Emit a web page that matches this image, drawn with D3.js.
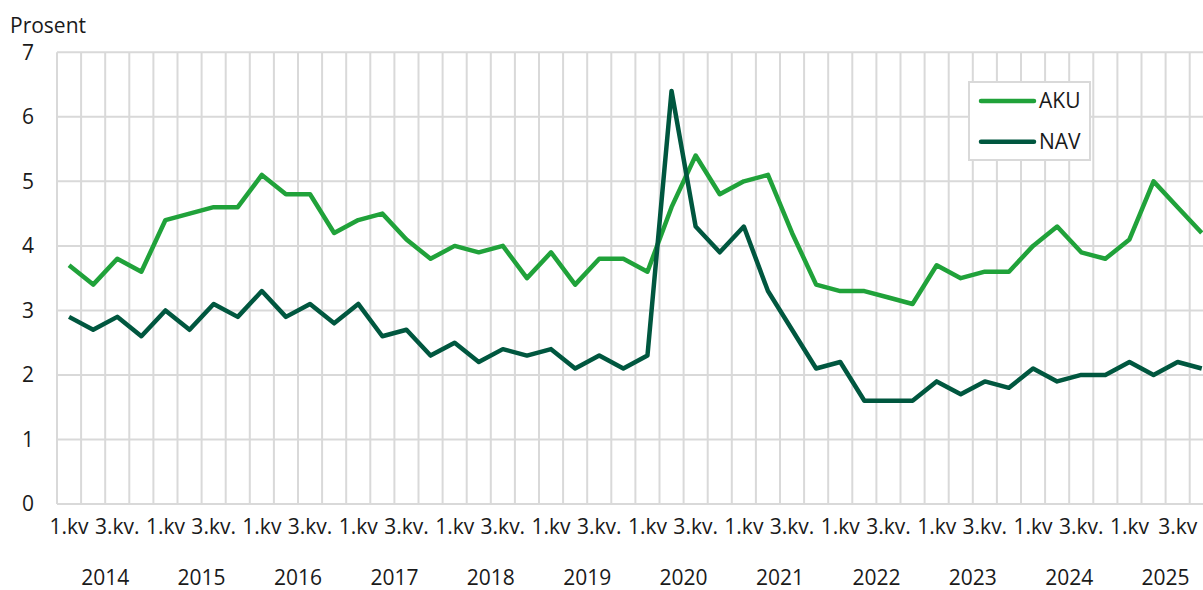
<!DOCTYPE html>
<html>
<head>
<meta charset="utf-8">
<script src="https://cdn.jsdelivr.net/npm/d3@7"></script>
<style>
  body { margin: 0; background: #fff; }
  text { font-family: "Open Sans", sans-serif; fill: #1a1a1a; }
</style>
</head>
<body>
<div class="container"></div>
<script>
// data: quarterly, 2014 Q1 - 2025 Q4
var years = ["2014", "2015", "2016", "2017", "2018", "2019", "2020", "2021", "2022", "2023", "2024", "2025"];

var quarterLabels = [
  "1.kv", "", "3.kv.", "",  "1.kv", "", "3.kv.", "",  "1.kv", "", "3.kv.", "",
  "1.kv", "", "3.kv.", "",  "1.kv", "", "3.kv.", "",  "1.kv", "", "3.kv.", "",
  "1.kv", "", "3.kv.", "",  "1.kv", "", "3.kv.", "",  "1.kv", "", "3.kv.", "",
  "1.kv", "", "3.kv.", "",  "1.kv", "", "3.kv.", "",  "1.kv", "", "3.kv", ""
];

var aku = [
  3.7, 3.4, 3.8, 3.6,  4.4, 4.5, 4.6, 4.6,  5.1, 4.8, 4.8, 4.2,
  4.4, 4.5, 4.1, 3.8,  4.0, 3.9, 4.0, 3.5,  3.9, 3.4, 3.8, 3.8,
  3.6, 4.6, 5.4, 4.8,  5.0, 5.1, 4.2, 3.4,  3.3, 3.3, 3.2, 3.1,
  3.7, 3.5, 3.6, 3.6,  4.0, 4.3, 3.9, 3.8,  4.1, 5.0, 4.6, 4.2
];

var nav = [
  2.9, 2.7, 2.9, 2.6,  3.0, 2.7, 3.1, 2.9,  3.3, 2.9, 3.1, 2.8,
  3.1, 2.6, 2.7, 2.3,  2.5, 2.2, 2.4, 2.3,  2.4, 2.1, 2.3, 2.1,
  2.3, 6.4, 4.3, 3.9,  4.3, 3.3, 2.7, 2.1,  2.2, 1.6, 1.6, 1.6,
  1.9, 1.7, 1.9, 1.8,  2.1, 1.9, 2.0, 2.0,  2.2, 2.0, 2.2, 2.1
];

var yTicks = [0, 1, 2, 3, 4, 5, 6, 7];

var series = [
  { name: "AKU", values: aku, color: "#20a23a" },
  { name: "NAV", values: nav, color: "#00573f" }
];

// svg container
var svgWidth = 1203;
var svgHeight = 590;
var fontSize = 21;

// plot area (runs a little past the right edge, like the original)
var plotLeft = 57, plotTop = 52.3, plotBottom = 504;
var step = 24.1;
var plotRight = plotLeft + step * quarterLabels.length;

var svg = d3.select(".container")
  .append("svg")
  .attr("width", svgWidth)
  .attr("height", svgHeight);

var idx = d3.range(quarterLabels.length);

var x = d3.scaleBand()
  .domain(idx)
  .range([plotLeft, plotRight])
  .paddingInner(0)
  .paddingOuter(0);

var y = d3.scaleLinear()
  .domain([0, 7])
  .range([plotBottom, plotTop]);

var grid = svg.append("g").attr("stroke", "#d9d9d9").attr("stroke-width", 2);

// horizontal gridlines
grid.selectAll(".h")
  .data(yTicks)
  .enter()
  .append("line")
  .attr("x1", plotLeft)
  .attr("x2", plotRight)
  .attr("y1", d => y(d))
  .attr("y2", d => y(d));

// vertical gridlines at quarter edges
grid.selectAll(".v")
  .data(idx.concat([quarterLabels.length]))
  .enter()
  .append("line")
  .attr("x1", d => plotLeft + d * x.step())
  .attr("x2", d => plotLeft + d * x.step())
  .attr("y1", plotTop)
  .attr("y2", plotBottom);

// y axis labels
var leftAxis = d3.axisLeft(y).tickValues(yTicks).tickFormat(d3.format("d")).tickSize(0).tickPadding(0);
var yAxis = svg.append("g")
  .attr("transform", "translate(34,0)")
  .call(leftAxis);
yAxis.select(".domain").remove();
yAxis.selectAll("text")
  .attr("font-size", fontSize)
  .attr("font-family", "Open Sans, sans-serif")
  .attr("fill", "#1a1a1a");

// x axis quarter labels
var bottomAxis = d3.axisBottom(x).tickFormat(i => quarterLabels[i]).tickSize(0).tickPadding(0);
var xAxis = svg.append("g")
  .attr("transform", "translate(0,519)")
  .call(bottomAxis);
xAxis.select(".domain").remove();
xAxis.selectAll("text")
  .attr("font-size", fontSize)
  .attr("font-family", "Open Sans, sans-serif")
  .attr("fill", "#1a1a1a");

// year labels
svg.selectAll(".year")
  .data(years)
  .enter()
  .append("text")
  .attr("x", (d, i) => x(i * 4) + 2 * x.step())
  .attr("y", 585)
  .attr("text-anchor", "middle")
  .attr("font-size", fontSize)
  .text(d => d);

// unit label
svg.append("text")
  .attr("x", 10)
  .attr("y", 33)
  .attr("font-size", fontSize)
  .text("Prosent");

// lines
var line = d3.line()
  .x((d, i) => x(i) + x.bandwidth() / 2)
  .y(d => y(d));

svg.selectAll(".series")
  .data(series)
  .enter()
  .append("path")
  .attr("d", d => line(d.values))
  .attr("fill", "none")
  .attr("stroke", d => d.color)
  .attr("stroke-width", 4.5)
  .attr("stroke-linejoin", "round");

// legend
var legend = svg.append("g");
legend.append("rect")
  .attr("x", 969)
  .attr("y", 82)
  .attr("width", 121)
  .attr("height", 78)
  .attr("fill", "#fff")
  .attr("stroke", "#d9d9d9")
  .attr("stroke-width", 2);

var items = legend.selectAll(".item")
  .data(series)
  .enter()
  .append("g")
  .attr("transform", (d, i) => `translate(0, ${101 + i * 40.7})`);

items.append("line")
  .attr("x1", 981)
  .attr("x2", 1034)
  .attr("stroke", d => d.color)
  .attr("stroke-width", 4.5)
  .attr("stroke-linecap", "round");

items.append("text")
  .attr("x", 1039)
  .attr("dy", "0.33em")
  .attr("font-size", fontSize)
  .text(d => d.name);
</script>
</body>
</html>
